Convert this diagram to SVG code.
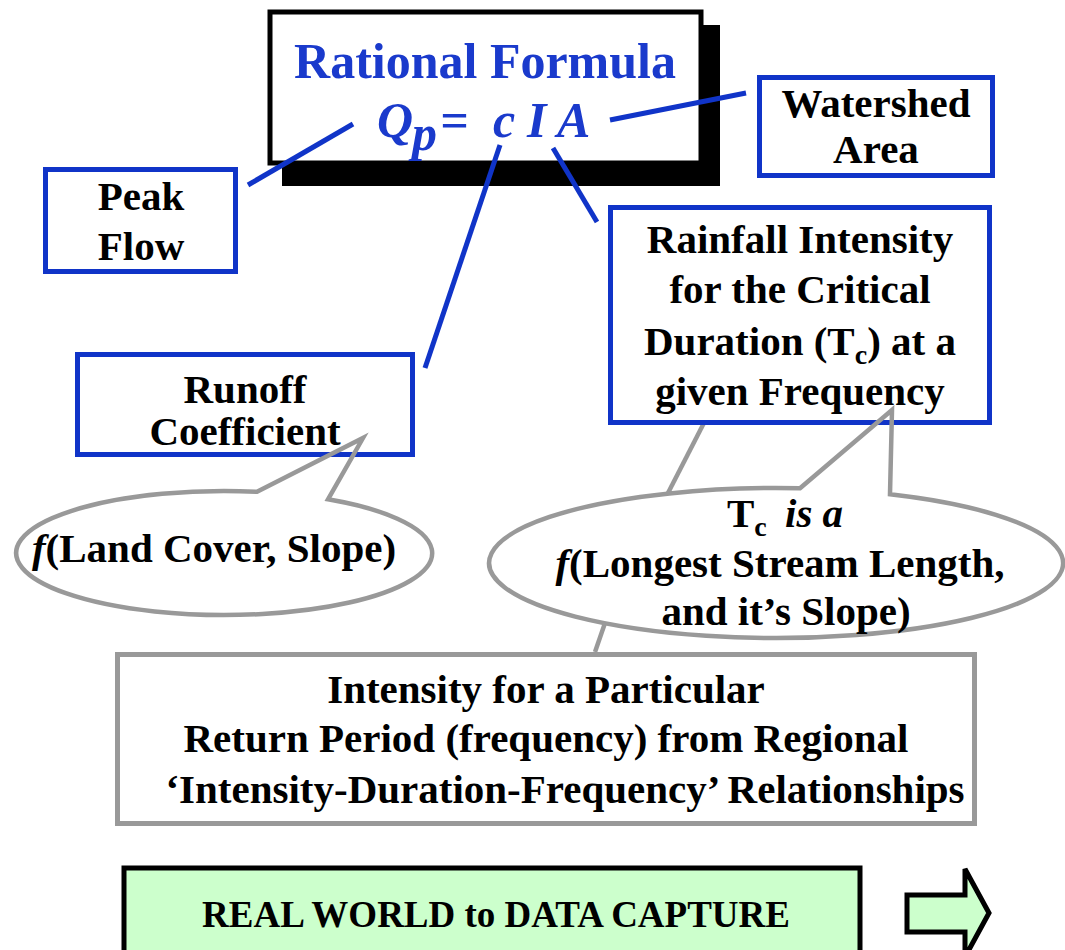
<svg xmlns="http://www.w3.org/2000/svg" width="1065" height="950" viewBox="0 0 1065 950">
<style>
.lbl{font-family:"Liberation Serif","Times New Roman",serif;font-weight:bold;font-size:41px;fill:#000;text-anchor:middle}
.st{text-anchor:start}
.bbox{fill:#fff;stroke:#1034c8;stroke-width:5}
.blue{stroke:#1034c8;stroke-width:5;fill:none}
.gray{stroke:#999;stroke-width:4.5;fill:none}
.frm{font-family:"Liberation Serif","Times New Roman",serif;font-weight:bold;font-style:italic;font-size:50px;fill:#1a3acc}
.it{font-style:italic}
</style>
<rect width="1065" height="950" fill="#fff"/>
<g id="title">
<rect x="282" y="25" width="438" height="161" fill="#000"/>
<rect x="270" y="12" width="431" height="151" fill="#fff" stroke="#000" stroke-width="5"/>
<text x="485" y="78" text-anchor="middle" font-family="Liberation Serif, Times New Roman, serif" font-weight="bold" font-size="50" fill="#1a3acc">Rational Formula</text>
<text class="frm" x="377" y="137">Q</text>
<text class="frm" x="412" y="150" font-size="32">p</text>
<text class="frm" x="440" y="137" font-style="normal">=</text>
<text class="frm" x="493" y="137">c</text>
<text class="frm" x="527" y="137">I</text>
<text class="frm" x="557" y="137">A</text>
</g>
<g id="connectors">
<line class="blue" x1="248" y1="185" x2="353" y2="124"/>
<line class="blue" x1="610" y1="120" x2="746" y2="93"/>
<line class="blue" x1="500" y1="145" x2="425" y2="368"/>
<line class="blue" x1="553" y1="148" x2="597" y2="222"/>
<line class="gray" x1="707" y1="417" x2="668" y2="493"/>
<line class="gray" x1="605" y1="623" x2="595" y2="652"/>
</g>
<g id="peak">
<rect class="bbox" x="45.5" y="169.5" width="190" height="102"/>
<text class="lbl" x="141" y="210">Peak</text>
<text class="lbl" x="141" y="260">Flow</text>
</g>
<g id="watershed">
<rect class="bbox" x="759.5" y="77.5" width="233" height="98"/>
<text class="lbl" x="876" y="117">Watershed</text>
<text class="lbl" x="876" y="163">Area</text>
</g>
<g id="rainfall">
<rect class="bbox" x="610.5" y="207.5" width="379" height="215"/>
<text class="lbl" x="800" y="253">Rainfall Intensity</text>
<text class="lbl" x="800" y="303">for the Critical</text>
<text class="lbl" x="800" y="355">Duration (T<tspan font-size="28" dy="9">c</tspan><tspan dy="-9">) at a</tspan></text>
<text class="lbl" x="800" y="405">given Frequency</text>
</g>
<g id="runoff">
<rect class="bbox" x="77.5" y="354.5" width="335" height="100"/>
<text class="lbl" x="245" y="403">Runoff</text>
<text class="lbl" x="245" y="445">Coefficient</text>
</g>
<g id="callout-landcover">
<path class="gray" d="M257,491.8 L363,438 L328,499.3 A208 62 0 1 1 257,491.8 Z"/>
<text class="lbl" x="214" y="562"><tspan class="it">f</tspan>(Land Cover, Slope)</text>
</g>
<g id="callout-tc">
<path class="gray" d="M800,488.3 L892,410 L890,494.2 A287 75 0 1 1 800,488.3 Z"/>
<text class="lbl st" x="727" y="527">T<tspan font-size="28" dy="9">c</tspan></text>
<text class="lbl st it" x="785" y="527">is a</text>
<text class="lbl" x="780" y="577"><tspan class="it">f</tspan>(Longest Stream Length,</text>
<text class="lbl" x="786" y="625">and it’s Slope)</text>
</g>
<g id="idf">
<rect x="117.5" y="654.5" width="857" height="169" fill="#fff" stroke="#999" stroke-width="5"/>
<text class="lbl" x="546" y="703">Intensity for a Particular</text>
<text class="lbl" x="546" y="752">Return Period (frequency) from Regional</text>
<text class="lbl" x="565" y="803">‘Intensity-Duration-Frequency’ Relationships</text>
</g>
<g id="realworld">
<rect x="124" y="868" width="736" height="100" fill="#ccffcc" stroke="#000" stroke-width="5"/>
<text x="496" y="927" text-anchor="middle" font-family="Liberation Serif, Times New Roman, serif" font-weight="bold" font-size="37" fill="#000">REAL WORLD to DATA CAPTURE</text>
</g>
<g id="arrow">
<polygon points="907,895 965,895 965,869 989,913 965,957 965,932 907,932" fill="#ccffcc" stroke="#000" stroke-width="5"/>
</g>
</svg>
